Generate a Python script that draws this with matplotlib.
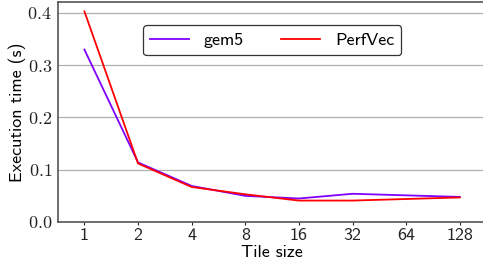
import matplotlib
matplotlib.use("Agg")
import matplotlib.pyplot as plt
from matplotlib.ticker import FuncFormatter

# -------------------------
# DATA
# -------------------------
tile_sizes = ["1", "2", "4", "8", "16", "32", "64", "128"]
gem5 = [0.330, 0.114, 0.069, 0.050, 0.045, 0.054, 0.051, 0.048]
perfvec = [0.403, 0.112, 0.067, 0.053, 0.041, 0.041, 0.044, 0.047]

# -------------------------
# STYLE
# -------------------------
plt.rcParams["font.family"] = ["cmss10", "DejaVu Sans"]
plt.rcParams["mathtext.fontset"] = "cm"
plt.rcParams["axes.formatter.use_mathtext"] = True

fig = plt.figure(figsize=(4.83, 2.64), dpi=100)
ax = fig.add_axes([57.6 / 483, 42 / 264, 429 / 483, 220 / 264])

x = list(range(len(tile_sizes)))
ax.plot(x, gem5, color="#8000ff", lw=1.3, label="gem5")
ax.plot(x, perfvec, color="#ff0000", lw=1.3, label="PerfVec")

ax.set_xlim(-0.5, len(tile_sizes) - 0.5)
ax.set_ylim(0, 0.421)
ax.set_xticks(x)
ax.set_xticklabels(tile_sizes)
ax.set_yticks([0.0, 0.1, 0.2, 0.3, 0.4])
ax.yaxis.set_major_formatter(FuncFormatter(lambda v, p: f"${v:.1f}$"))
ax.tick_params(axis="both", labelsize=13, colors="#222222", length=2.5, width=0.8)
ax.tick_params(axis="y", length=0, pad=4)
ax.tick_params(axis="x", pad=2)

ax.grid(axis="y", color="#b0b0b0", lw=0.9)
ax.set_axisbelow(True)
for s in ax.spines.values():
    s.set_color("#555555")
    s.set_linewidth(1.2)

ax.set_xlabel("Tile size", fontsize=13, labelpad=1)
ax.set_ylabel("Execution time (s)", fontsize=13, labelpad=1)

leg = ax.legend(loc="upper center", bbox_to_anchor=(0.5, 0.935), ncol=2,
                fontsize=13, handlelength=2.15, handletextpad=0.8,
                columnspacing=2.1, borderpad=0.4, fancybox=True,
                framealpha=1)
leg.get_frame().set_edgecolor("#333333")
leg.get_frame().set_linewidth(0.9)

fig.savefig("out.png", dpi=100)
